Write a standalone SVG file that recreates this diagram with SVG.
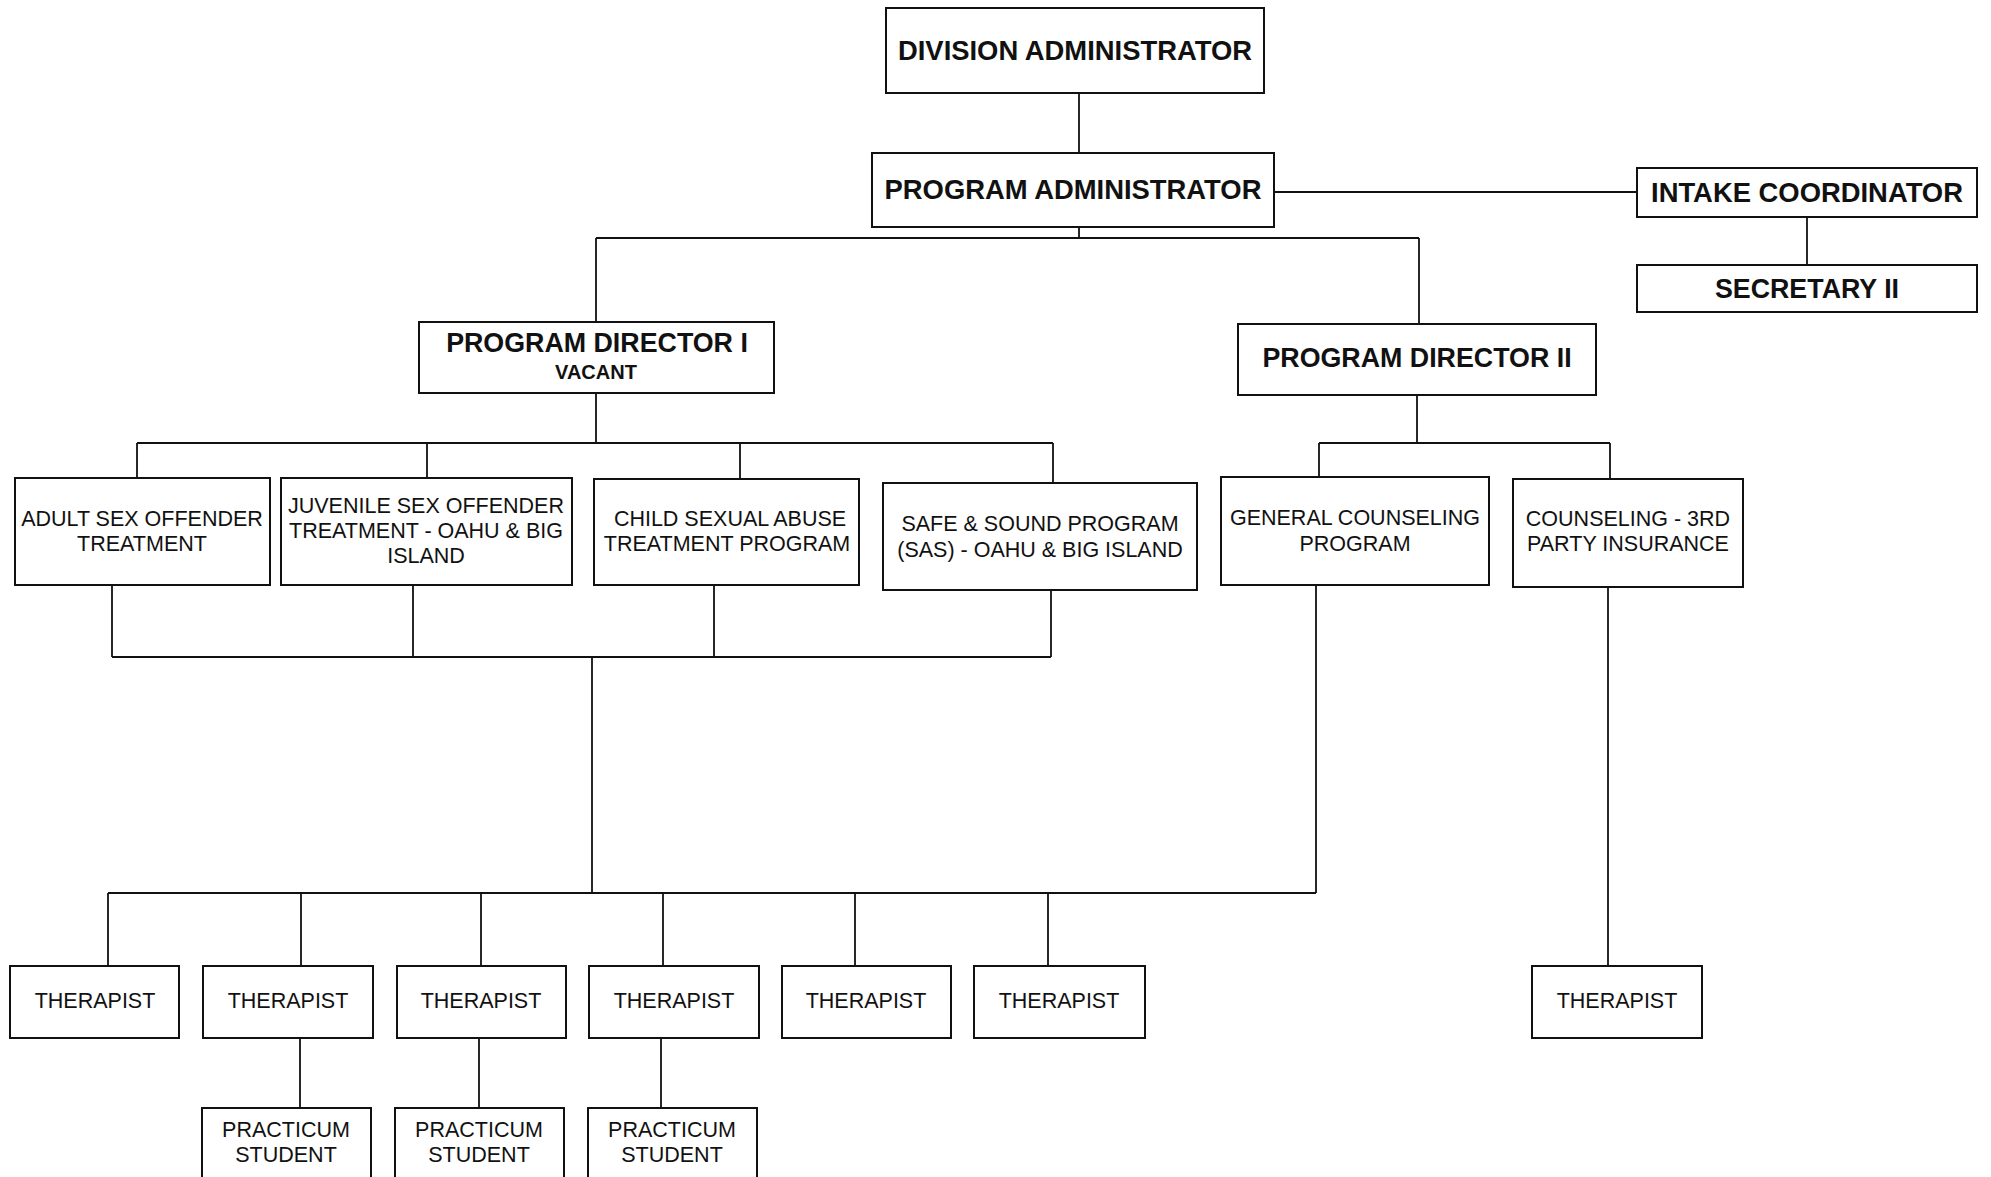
<svg xmlns="http://www.w3.org/2000/svg" width="1991" height="1177" viewBox="0 0 1991 1177">
<style>
.bx{fill:#fff;stroke:#111;stroke-width:2}
.ln{fill:none;stroke:#111;stroke-width:1.8}
.b{font-family:"Liberation Sans",Arial,sans-serif;font-weight:bold;font-size:26.8px;text-anchor:middle;fill:#111}
.bl{font-size:27.4px}
.v{font-family:"Liberation Sans",Arial,sans-serif;font-weight:bold;font-size:20px;text-anchor:middle;fill:#111}
.r{font-family:"Liberation Sans",Arial,sans-serif;font-size:21.5px;text-anchor:middle;fill:#111}
</style>
<rect width="1991" height="1177" fill="#fff"/>
<g id="connectors">
<path class="ln" d="M1079,93V153"/>
<path class="ln" d="M1274,192H1637"/>
<path class="ln" d="M1807,217V265"/>
<path class="ln" d="M1079,227V238M596,238H1419M596,238V322M1419,238V324"/>
<path class="ln" d="M596,393V443M137,443H1053M137,443V478M427,443V478M740,443V479M1053,443V483"/>
<path class="ln" d="M1417,395V443M1319,443H1610M1319,443V477M1610,443V479"/>
<path class="ln" d="M112,585V657M413,585V657M714,585V657M1051,590V657M112,657H1051"/>
<path class="ln" d="M592,657V893M1316,585V893M108,893H1316"/>
<path class="ln" d="M108,893V966M301,893V966M481,893V966M663,893V966M855,893V966M1048,893V966"/>
<path class="ln" d="M300,1038V1108M479,1038V1108M661,1038V1108"/>
<path class="ln" d="M1608,587V966"/>
</g>
<g id="division-administrator"><rect class="bx" x="886" y="8" width="378" height="85"/><text class="b bl" x="1075" y="60">DIVISION ADMINISTRATOR</text></g>
<g id="program-administrator"><rect class="bx" x="872" y="153" width="402" height="74"/><text class="b bl" x="1073" y="199">PROGRAM ADMINISTRATOR</text></g>
<g id="intake-coordinator"><rect class="bx" x="1637" y="168" width="340" height="49"/><text class="b bl" x="1807" y="202">INTAKE COORDINATOR</text></g>
<g id="secretary-ii"><rect class="bx" x="1637" y="265" width="340" height="47"/><text class="b" x="1807" y="298">SECRETARY II</text></g>
<g id="program-director-i"><rect class="bx" x="419" y="322" width="355" height="71"/><text class="b" x="597" y="352">PROGRAM DIRECTOR I</text><text class="v" x="596" y="379">VACANT</text></g>
<g id="program-director-ii"><rect class="bx" x="1238" y="324" width="358" height="71"/><text class="b" x="1417" y="367">PROGRAM DIRECTOR II</text></g>
<g id="adult-sex-offender"><rect class="bx" x="15" y="478" width="255" height="107"/><text class="r" x="142" y="526">ADULT SEX OFFENDER</text><text class="r" x="142" y="551">TREATMENT</text></g>
<g id="juvenile-sex-offender"><rect class="bx" x="281" y="478" width="291" height="107"/><text class="r" x="426" y="513">JUVENILE SEX OFFENDER</text><text class="r" x="426" y="538">TREATMENT - OAHU &amp; BIG</text><text class="r" x="426" y="563">ISLAND</text></g>
<g id="child-sexual-abuse"><rect class="bx" x="594" y="479" width="265" height="106"/><text class="r" x="730" y="526">CHILD SEXUAL ABUSE</text><text class="r" x="727" y="551">TREATMENT PROGRAM</text></g>
<g id="safe-and-sound"><rect class="bx" x="883" y="483" width="314" height="107"/><text class="r" x="1040" y="531">SAFE &amp; SOUND PROGRAM</text><text class="r" x="1040" y="557">(SAS) - OAHU &amp; BIG ISLAND</text></g>
<g id="general-counseling"><rect class="bx" x="1221" y="477" width="268" height="108"/><text class="r" x="1355" y="525">GENERAL COUNSELING</text><text class="r" x="1355" y="551">PROGRAM</text></g>
<g id="counseling-3rd-party"><rect class="bx" x="1513" y="479" width="230" height="108"/><text class="r" x="1628" y="526">COUNSELING - 3RD</text><text class="r" x="1628" y="551">PARTY INSURANCE</text></g>
<g id="therapist-1"><rect class="bx" x="10" y="966" width="169" height="72"/><text class="r" x="95" y="1008">THERAPIST</text></g>
<g id="therapist-2"><rect class="bx" x="203" y="966" width="170" height="72"/><text class="r" x="288" y="1008">THERAPIST</text></g>
<g id="therapist-3"><rect class="bx" x="397" y="966" width="169" height="72"/><text class="r" x="481" y="1008">THERAPIST</text></g>
<g id="therapist-4"><rect class="bx" x="589" y="966" width="170" height="72"/><text class="r" x="674" y="1008">THERAPIST</text></g>
<g id="therapist-5"><rect class="bx" x="782" y="966" width="169" height="72"/><text class="r" x="866" y="1008">THERAPIST</text></g>
<g id="therapist-6"><rect class="bx" x="974" y="966" width="171" height="72"/><text class="r" x="1059" y="1008">THERAPIST</text></g>
<g id="therapist-7"><rect class="bx" x="1532" y="966" width="170" height="72"/><text class="r" x="1617" y="1008">THERAPIST</text></g>
<g id="practicum-1"><rect class="bx" x="202" y="1108" width="169" height="80"/><text class="r" x="286" y="1137">PRACTICUM</text><text class="r" x="286" y="1162">STUDENT</text></g>
<g id="practicum-2"><rect class="bx" x="395" y="1108" width="169" height="80"/><text class="r" x="479" y="1137">PRACTICUM</text><text class="r" x="479" y="1162">STUDENT</text></g>
<g id="practicum-3"><rect class="bx" x="588" y="1108" width="169" height="80"/><text class="r" x="672" y="1137">PRACTICUM</text><text class="r" x="672" y="1162">STUDENT</text></g>
</svg>
